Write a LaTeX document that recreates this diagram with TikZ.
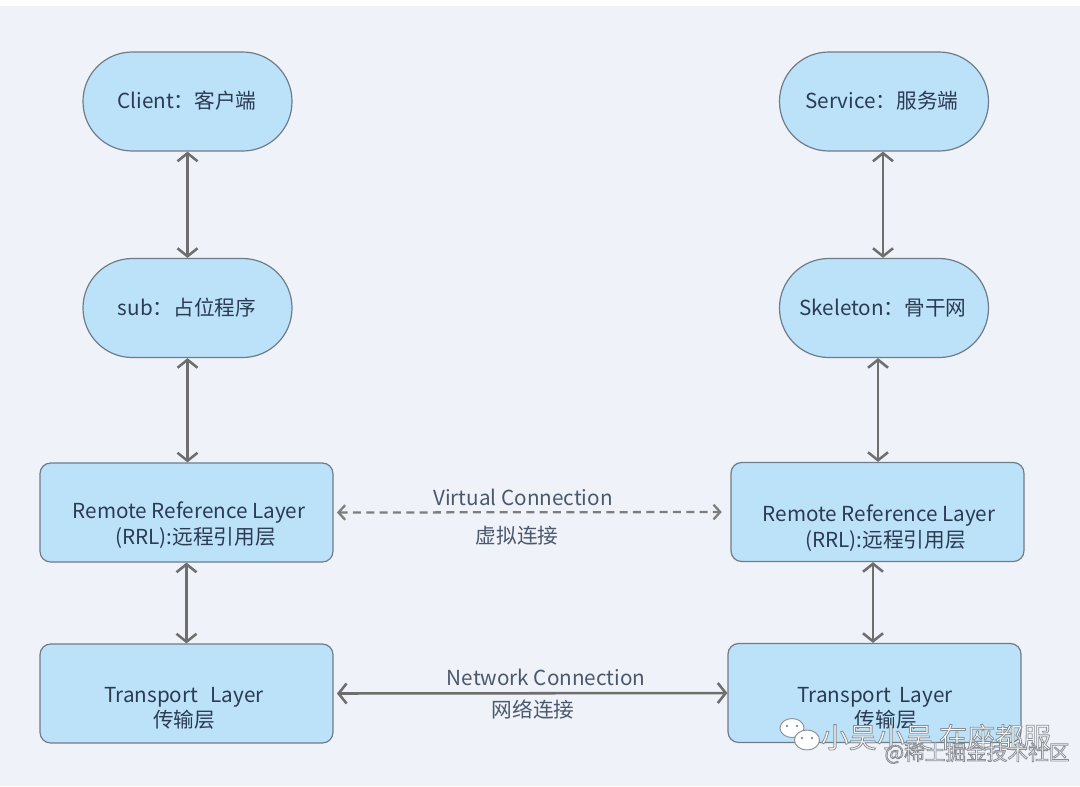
\documentclass[tikz,border=0pt]{standalone}
\usepackage{fontspec}
\setmainfont{Noto Sans CJK SC}
\usetikzlibrary{arrows.meta,calc}
\definecolor{bgc}{HTML}{EFF3F9}
\definecolor{boxfill}{HTML}{BCE2FA}
\definecolor{boxdraw}{HTML}{6F7C88}
\definecolor{arrc}{HTML}{6E6E6E}
\definecolor{txtc}{HTML}{2B3B52}
\definecolor{wmgray}{HTML}{8A8F96}
\tikzset{
  pill/.style={draw=boxdraw, line width=0.9pt, fill=boxfill, rounded corners=37pt,
    minimum width=156.75pt, minimum height=74.25pt, inner sep=0pt},
  layerbox/.style={draw=boxdraw, line width=0.9pt, fill=boxfill, rounded corners=8pt,
    minimum width=219.75pt, minimum height=74.25pt, inner sep=0pt},
  lbl/.style={text=txtc, font=\fontsize{15.5}{19}\selectfont, inner sep=0pt, align=center},
  conlbl/.style={text=txtc!85, font=\fontsize{15.5}{19}\selectfont, inner sep=0pt},
  biarrow/.style={draw=arrc, line width=1.9pt, {Straight Barb[length=6pt,width=15pt]}-{Straight Barb[length=6pt,width=15pt]}},
  dasharrow/.style={draw=arrc!90, line width=1.7pt, dash pattern=on 6pt off 4pt,
    {Straight Barb[length=5pt,width=11pt]}-{Straight Barb[length=5pt,width=11pt]}},
  wm/.style={inner sep=0pt, text=white, font=\fontsize{#1}{#1}\selectfont}
}
\newcommand{\outlined}[1]{\special{pdf:literal direct 2 Tr 0.6 w 0.54 0.56 0.59 RG}#1\special{pdf:literal direct 0 Tr}}
\begin{document}
\begin{tikzpicture}[x=0.75pt,y=-0.75pt]
\useasboundingbox (0,0) rectangle (1080,786);
\fill[bgc] (0,0) rectangle (1080,786);
\fill[white] (0,0) rectangle (1080,6);

% left column
\node[pill] (client) at (187.5,101.5) {};
\node[lbl] (clientT) at (187,101) {Client：客户端};
\node[pill] (sub) at (187.5,308) {};
\node[lbl] (subT) at (187,308) {sub：占位程序};
\node[layerbox] (rrlL) at (186.5,512.5) {};
\node[lbl] (rrlLT) at (189,525) {Remote Reference Layer\\ \hspace*{10pt}(RRL):远程引用层};
\node[layerbox] (trL) at (186.5,693.5) {};
\node[lbl] (trLT) at (184,708) {Transport\hspace{0.6em}Layer\\传输层};

% right column
\node[pill] (serv) at (884,101.5) {};
\node[lbl] (servT) at (882,101) {Service：服务端};
\node[pill] (skel) at (884,308) {};
\node[lbl] (skelT) at (883,308) {Skeleton：骨干网};
\node[layerbox] (rrlR) at (877.5,512) {};
\node[lbl] (rrlRT) at (879,528) {Remote Reference Layer\\ \hspace*{10pt}(RRL):远程引用层};
\node[layerbox] (trR) at (874.5,693) {};
\node[lbl] (trRT) at (875,708) {Transport\hspace{0.4em}Layer\\ \hspace*{16pt}传输层};

% vertical connectors
\draw[biarrow] (client.south) -- (sub.north);
\draw[biarrow] (sub.south) -- (rrlL.north -| sub.south);
\draw[biarrow] (rrlL.south) -- (trL.north);
\draw[biarrow] (serv.south -| 883,0) -- (skel.north -| 883,0);
\draw[biarrow] (skel.south -| 878,0) -- (rrlR.north -| 878,0);
\draw[biarrow] (rrlR.south -| 873,0) -- (trR.north -| 873,0);

% horizontal connectors
\draw[dasharrow, shorten <=2.5pt, shorten >=6.5pt] (rrlL.east) -- (rrlR.west);
\node[conlbl] (vcT) at (523,497) {Virtual Connection};
\node[conlbl] (vcC) at (517,536) {虚拟连接};
\draw[biarrow, shorten <=2.5pt] (trL.east) -- (trR.west);
\node[conlbl] (ncT) at (546,677) {Network Connection};
\node[conlbl] (ncC) at (533,710) {网络连接};

% watermark
\begin{scope}[draw=wmgray, line width=0.7pt, fill=white]
  \filldraw (792,728) ellipse (12 and 9.5);
  \filldraw (807,740) ellipse (12.5 and 10);
  \fill[wmgray] (787,726) circle (1.4) (797,726) circle (1.4) (802,738) circle (1.4) (812,738) circle (1.4);
\end{scope}
\node[wm=21] (wm1) at (936,737) {\outlined{小吴小吴 在座都服}};
\node[wm=15.5] (wm2) at (977,753) {\outlined{@稀土掘金技术社区}};
\end{tikzpicture}
\end{document}
